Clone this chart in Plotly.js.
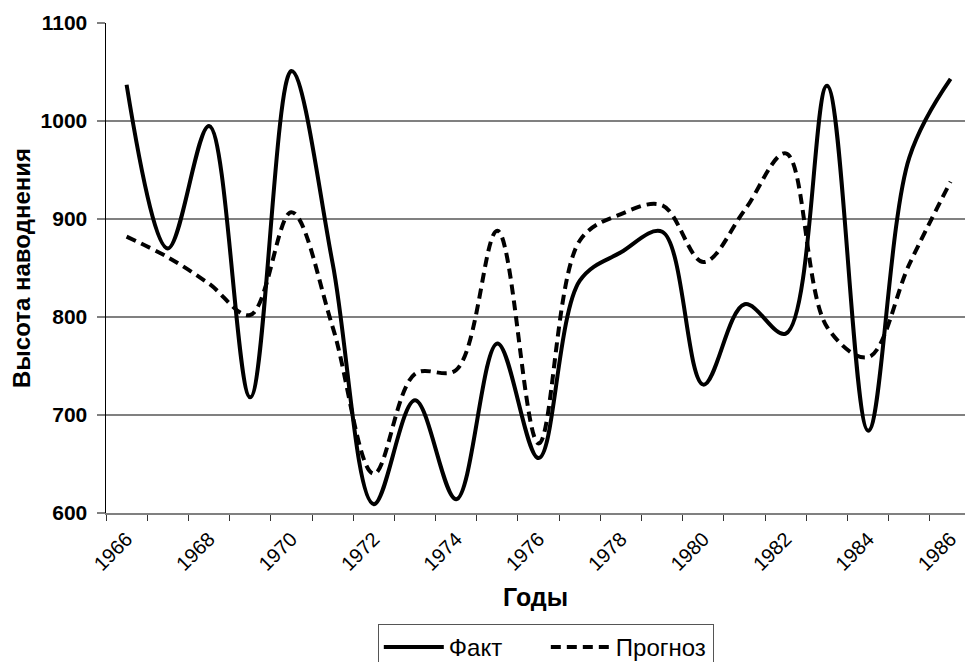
<!DOCTYPE html>
<html>
<head>
<meta charset="utf-8">
<script src="https://cdn.plot.ly/plotly-3.0.1.min.js"></script>
<style>
html,body{margin:0;padding:0;background:#fff;overflow:hidden;width:965px;height:662px;}
#chart{width:965px;height:680px;}
</style>
</head>
<body>
<div id="chart"></div>
<script>
const years = [1966,1967,1968,1969,1970,1971,1972,1973,1974,1975,1976,1977,1978,1979,1980,1981,1982,1983,1984,1985,1986];
const fact = [1037,870,995,718,1051,855,609,715,614,773,656,837,866,887,731,813,783,1036,684,963,1043];
const forecast = [882,861,834,802,907,790,640,742,746,888,671,878,905,914,856,909,967,790,759,854,938];
const tickYears = [1966,1968,1970,1972,1974,1976,1978,1980,1982,1984,1986];
const tickLabels = ["1966","1968","1970","1972","1974","1976","1978","1980","1982","1984","1986"];
const seriesNames = ["Факт","Прогноз"];
const yTitle = "Высота наводнения";
const xTitle = "Годы";

const boundaries = years.map(y => y - 0.5).concat([years[years.length-1] + 0.5]);

const traces = [
  {x: years, y: fact, name: seriesNames[0], type: 'scatter', mode: 'lines',
   line: {color: '#000000', width: 4, shape: 'spline', smoothing: 1}},
  {x: years, y: forecast, name: seriesNames[1], type: 'scatter', mode: 'lines',
   line: {color: '#000000', width: 4, shape: 'spline', smoothing: 1, dash: '10px,6px'}}
];

const layout = {
  width: 965, height: 680,
  margin: {l: 106, r: 0, t: 23, b: 167},
  paper_bgcolor: '#ffffff', plot_bgcolor: '#ffffff',
  font: {family: 'Liberation Sans, Arial, sans-serif', color: '#000000'},
  showlegend: true,
  legend: {
    orientation: 'h', x: 0.512, xanchor: 'center', y: -0.2265, yanchor: 'top',
    bordercolor: '#555555', borderwidth: 1, font: {size: 24, color: '#000'},
    itemwidth: 60, entrywidth: 92, tracegroupgap: 0
  },
  xaxis: {
    range: [1965.5, 1986.35],
    tickmode: 'array', tickvals: tickYears, ticktext: tickLabels,
    tickangle: -45, ticks: '', ticklabelstandoff: 5,
    tickfont: {size: 20, color: '#000'},
    showgrid: false, zeroline: false,
    showline: true, linecolor: '#808080', linewidth: 1.5,
    minor: {tickmode: 'array', tickvals: boundaries, ticks: 'outside', ticklen: 6, tickwidth: 1, tickcolor: '#333333', showgrid: false},
    title: {text: xTitle, font: {size: 25, color: '#000', weight: 'bold'}, standoff: 14},
    fixedrange: true
  },
  yaxis: {
    range: [600, 1100], dtick: 100, tick0: 600,
    ticks: 'outside', ticklen: 8, tickwidth: 1.5, tickcolor: '#808080',
    ticklabelstandoff: 5,
    tickfont: {size: 21, color: '#000', weight: 'bold'},
    showgrid: true, gridcolor: '#808080', gridwidth: 1.5,
    zeroline: false, showline: true, linecolor: '#000000', linewidth: 1.5,
    title: {text: yTitle, font: {size: 24, color: '#000', weight: 'bold'}, standoff: 3},
    fixedrange: true
  }
};

Plotly.newPlot('chart', traces, layout, {displayModeBar: false, staticPlot: true});
</script>
</body>
</html>
